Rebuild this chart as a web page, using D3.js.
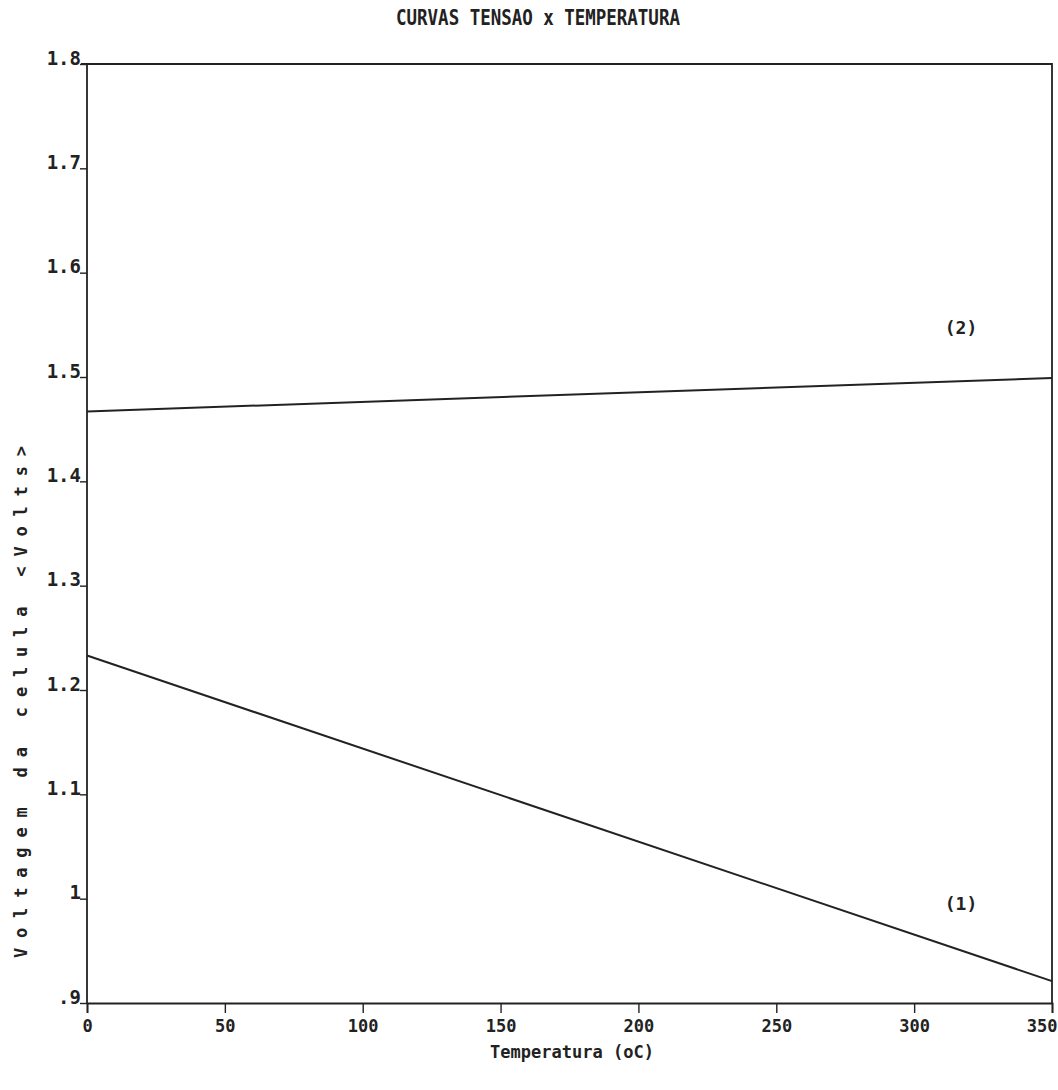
<!DOCTYPE html>
<html><head><meta charset="utf-8">
<script src="https://cdn.jsdelivr.net/npm/d3@7"></script>
<style>
body{margin:0;background:#fff;}
text{font-family:"DejaVu Sans Mono","Liberation Mono",monospace;font-weight:bold;fill:#222;}
</style></head>
<body><svg id="c" width="1058" height="1090"></svg>
<script>
const title = "CURVAS TENSAO x TEMPERATURA";
const xLabel = "Temperatura (oC)";
const yLabel = "Voltagem da celula <Volts>";
const xTicks = [0,50,100,150,200,250,300,350];
const yTicks = [0.9,1.0,1.1,1.2,1.3,1.4,1.5,1.6,1.7,1.8];
const yTickLabels = [".9","1","1.1","1.2","1.3","1.4","1.5","1.6","1.7","1.8"];
const temps = [0,350];
const curve1 = [1.233,0.921];
const curve2 = [1.467,1.499];
const curveLabels = ["(1)","(2)"];
const labelPos = [[317,0.995],[317,1.547]];

const svg = d3.select("#c");
const m = {l:87, r:1052, t:64, b:1003};
const x = d3.scaleLinear().domain([0,350]).range([m.l,m.r]);
const y = d3.scaleLinear().domain([0.9,1.8]).range([m.b,m.t]);
const ink = "#222";

svg.append("text").attr("x",538).attr("y",25).attr("text-anchor","middle")
  .attr("transform","translate(538,25) scale(0.92,1.15) translate(-538,-25)")
  .style("font-size","19px").text(title);

// frame
svg.append("path").attr("d",`M${m.l-6},${m.t}H${m.r}V${m.b}`).attr("fill","none").attr("stroke",ink).attr("stroke-width",1.8);

const xa = svg.append("g").attr("transform",`translate(0,${m.b})`)
  .call(d3.axisBottom(x).tickValues(xTicks).tickSize(10).tickPadding(7).tickFormat(d=>String(d)));
const ya = svg.append("g").attr("transform",`translate(${m.l},0)`)
  .call(d3.axisLeft(y).tickValues(yTicks).tickSize(7).tickPadding(0).tickFormat((d,i)=>yTickLabels[i]));
[xa,ya].forEach(g=>{
  g.select(".domain").attr("stroke",ink).attr("stroke-width",1.8);
  g.selectAll(".tick line").attr("stroke",ink).attr("stroke-width",1.4);
  g.selectAll("text").style("font-size","19px").attr("fill",ink);
});
xa.selectAll(".tick text").style("font-size","17px");
ya.select(".domain").attr("d",`M0,${m.b}V${m.t}`);
ya.selectAll(".tick text").attr("dy","0").attr("x",-6);
xa.selectAll(".tick text").filter(d=>d===350).attr("text-anchor","end").attr("x",5);

const line = d3.line().x((d,i)=>x(temps[i])).y(d=>y(d));
[curve1,curve2].forEach(c=>{
  svg.append("path").datum(c).attr("d",line).attr("fill","none").attr("stroke",ink).attr("stroke-width",2);
});
curveLabels.forEach((t,i)=>{
  svg.append("text").attr("x",x(labelPos[i][0])).attr("y",y(labelPos[i][1])+6)
    .style("font-size","18px").attr("text-anchor","middle").text(t);
});

svg.append("text").attr("x",572).attr("y",1058).attr("text-anchor","middle")
  .style("font-size","17px").text(xLabel);
svg.append("text").attr("transform","translate(27,958) rotate(-90)")
  .attr("textLength",512).attr("lengthAdjust","spacing")
  .style("font-size","17px").text(yLabel);
</script></body></html>
